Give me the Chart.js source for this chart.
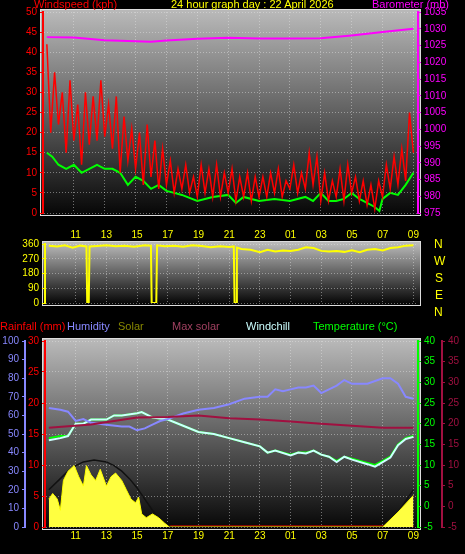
<!DOCTYPE html>
<html><head><meta charset="utf-8">
<script src="https://cdn.jsdelivr.net/npm/chart.js@4"></script>
<style>
body{margin:0;background:#000;width:465px;height:554px;overflow:hidden;position:relative;font-family:"Liberation Sans",Arial,sans-serif}
canvas{position:absolute;left:0}
.t{position:absolute;font-size:11px;white-space:nowrap;line-height:11px;z-index:2}
</style></head><body>
<canvas id="c1" width="465" height="222" style="top:0"></canvas>
<canvas id="c2" width="465" height="84" style="top:228px"></canvas>
<canvas id="c3" width="465" height="224" style="top:330px"></canvas>
<div class="t" style="left:34px;top:-1px;color:#f00">Windspeed (kph)</div>
<div class="t" style="left:171px;top:-1px;color:#ff0">24 hour graph day : 22 April 2026</div>
<div class="t" style="left:372px;top:-1px;color:#f0f">Barometer (mb)</div>
<div class="t" style="left:0;top:321px;color:#f00">Rainfall (mm)</div>
<div class="t" style="left:67px;top:321px;color:#88f">Humidity</div>
<div class="t" style="left:118px;top:321px;color:#880">Solar</div>
<div class="t" style="left:172px;top:321px;color:#a04060">Max solar</div>
<div class="t" style="left:246px;top:321px;color:#cff">Windchill</div>
<div class="t" style="left:313px;top:321px;color:#0f0">Temperature (°C)</div>
<div class="t" style="left:434px;top:239px;color:#ff0;font-size:12px">N</div>
<div class="t" style="left:434px;top:256px;color:#ff0;font-size:12px">W</div>
<div class="t" style="left:435px;top:273px;color:#ff0;font-size:12px">S</div>
<div class="t" style="left:435px;top:290px;color:#ff0;font-size:12px">E</div>
<div class="t" style="left:434px;top:307px;color:#ff0;font-size:12px">N</div>
<script>
// hours since midnight 22 April (values over 24 are next day)
const hourTicks = [11,13,15,17,19,21,23,25,27,29,31,33];

const gust = [42,20,35,22, 30,15,33,18, 27,12,30,17, 29,18,33,19, 27,16,29,10, 24,13,21,11,
  20,7,22,9, 18,6,16,7, 13,5,11,6, 12,5,9,4, 12,5,11,4, 12,4,10,5, 11,3,9,4, 10,3,9,4,
  9,4,10,5, 11,4,8,6, 12,5,10,6, 15,7,14,3, 10,3,8,4, 11,3,12,5, 9,3,8,2, 7,1,8,4,
  12,6,14,7, 16,8,25,15];
const gustTimes = gust.map((v, i) => 9.25 + i * 0.25);

const avgTimes = [9.25,9.6,10,10.5,11,11.5,12,12.5,13,13.5,14,14.5,15,15.5,16,16.5,17,17.5,18,19,20,21,21.5,22,23,24,25,26,26.5,27,27.5,28,28.5,29,29.5,30,30.5,30.8,31,31.5,32,32.5,33];
const avgSpeed = [15,14,12,11,12,10,11,12,11,11,10,7,9,8,6,7,5.5,5,4.5,3,4,4.5,2.5,4,3,3.5,3,4,3,5,3,3,3.5,5,3.5,2.5,1.5,0.5,3.5,5,4.5,7,10];

const baroTimes = [9.25,11,13,15,16,17,19,21,23,25,27,29,31,33];
const baro = [1027.5,1027.4,1026.6,1026.3,1026.1,1026.5,1027,1027.3,1027.1,1027.1,1027.2,1028,1029,1030];

const dirTimes = [9.25,9.8,10.3,10.8,11.3,11.7,11.75,11.85,11.9,12.4,13,13.6,14.2,14.8,15.5,15.9,15.95,16.25,16.3,16.8,17.4,18,18.6,19.2,19.8,20.4,21,21.3,21.35,21.45,21.5,21.8,22.4,23,23.5,24,24.5,25,25.5,26,26.5,27,27.5,28,28.5,29,29.5,30,30.5,31,31.5,32,32.5,33];
const dirValues = [350,345,352,338,350,345,0,0,345,348,352,346,350,344,352,350,0,0,352,346,350,344,352,348,340,346,342,345,0,0,338,330,325,310,325,315,320,318,325,340,335,318,315,318,312,322,310,325,330,320,335,340,350,352];

const humTimes = [9.25,10,10.5,11,11.5,12,13,14,14.5,15,15.5,16,16.5,17,18,19,20,21,22,23,23.5,24,24.5,25,25.5,26,26.5,27,27.5,28,28.5,29,30,31,31.5,32,32.5,33];
const humidity = [64,63,62,57,58,56,55,54,54,52,53,55,57,58,61,63,64,66,69,70,70,74,73,74,75,75,76,72,74,76,79,77,77,80,80,77,70,69];

const tempTimes = [9.25,10,10.5,11,11.5,12,13,13.5,14,15,15.3,16,17,18,19,20,21,22,23,23.5,24,25,25.5,26,26.5,27,27.5,28,28.5,29,30,30.5,31,31.5,32,32.5,33];
const temperature = [16.5,17,17,20,20,21,21,22,22,22.5,22.8,21.5,21,19.5,18,17.5,16.5,15.5,14.5,13,13.5,12.5,13,13,13.5,12.5,12,11,12,11.5,10.5,10,11,12,15,16.5,17];
const windchill = [16,16.5,17,20,20,21,21,22,22,22.5,22.8,21.5,21,19.5,18,17.5,16.5,15.5,14.5,13,13.5,12.3,13,12.8,13.5,12.5,12,10.7,12,11.3,10.2,9.6,10.7,11.8,14.8,16.3,16.8];

const indoorTimes = [9.25,12,15,17,19,21,23,25,27,29,31,33];
const indoor = [19,19.8,21.5,21.6,22,21.3,21,20.5,20,19.5,19,19];

const maxSolarTimes = [9.25,10,10.5,11,11.5,12.2,13,13.5,14,14.5,15,15.5,16,16.5,17,17.2,31,31.5,32,32.5,33];
const maxSolar = [20,26,30,33,35,36,35,33,30,26,21,15,9,4,1,0,0,3,8,14,20];

const solarTimes = [9.25,9.5,9.8,10,10.2,10.5,10.9,11.2,11.5,11.7,12,12.3,12.6,13,13.3,13.6,14,14.3,14.6,14.9,15.1,15.3,15.6,16,16.4,16.8,17.1,31,32,33];
const solar = [15,18,15,9,25,30,33,27,22,33,28,25,31,22,27,29,25,20,15,13,16,7,5,7,5,2,0,0,8,17];

const rainTimes = [9.25,33];
const rain = [0,0];

function pts(t, v) { return v.map((y, i) => ({x: t[i], y: y})); }

const bgPlugin = {
  id: 'bg',
  beforeDraw(chart) {
    const {ctx, chartArea: a} = chart;
    const g = ctx.createLinearGradient(0, a.top, 0, a.bottom);
    g.addColorStop(0, '#b8b8b8'); g.addColorStop(1, '#080808');
    ctx.save(); ctx.fillStyle = g;
    ctx.fillRect(a.left - 2, a.top - 2, a.right - a.left + 4, a.bottom - a.top + 4);
    ctx.strokeStyle = '#ddd'; ctx.lineWidth = 1;
    ctx.strokeRect(a.left - 2.5, a.top - 2.5, a.right - a.left + 5, a.bottom - a.top + 5);
    ctx.restore();
  }
};

const tickFont = {size: 10, family: 'Liberation Sans'};
function xAxis(show, pos) {
  return {
    type: 'linear', min: 9, max: 33.3, position: pos || 'bottom',
    afterBuildTicks: s => { s.ticks = hourTicks.map(v => ({value: v})); },
    ticks: {display: show, color: '#ff0', font: tickFont, maxRotation: 0, autoSkip: false,
      callback: v => String(v % 24).padStart(2, '0')},
    grid: {color: 'rgba(230,230,230,0.45)', drawTicks: false},
    border: {display: false, dash: [1, 2]}
  };
}
function yAxis(pos, min, max, step, color, width, weight, grid) {
  return {
    position: pos, min: min, max: max, weight: weight || 0,
    afterFit: s => { s.width = width; },
    ticks: {stepSize: step, color: color, font: tickFont, padding: 3, autoSkip: false,
      callback: v => String(v)},
    grid: {display: true, drawOnChartArea: !!grid, color: 'rgba(230,230,230,0.45)', tickColor: color, tickLength: 3},
    border: {display: true, color: color, width: 2, dash: [1, 2]}
  };
}
const line = (data, color, w, axis, extra) => Object.assign({
  data: data, borderColor: color, borderWidth: w, pointRadius: 0, yAxisID: axis, tension: 0
}, extra || {});
const common = {
  responsive: false, animation: false, parsing: false,
  plugins: {legend: {display: false}, tooltip: {enabled: false}}
};

new Chart(document.getElementById('c1'), {
  type: 'line',
  data: {datasets: [
    line(pts(baroTimes, baro), '#f0f', 2, 'yb'),
    line(pts(gustTimes, gust), '#f00', 1.5, 'y'),
    line(pts(avgTimes, avgSpeed), '#0f0', 2, 'y')
  ]},
  options: Object.assign({}, common, {
    layout: {padding: {top: 12, bottom: 2}},
    scales: {
      x: Object.assign(xAxis(false), {afterFit: s => { s.height = 0; }}),
      y: yAxis('left', 0, 50, 5, '#f00', 43, 0, true),
      yb: yAxis('right', 975, 1035, 5, '#f0f', 47, 0, false)
    }
  }),
  plugins: [bgPlugin]
});

new Chart(document.getElementById('c2'), {
  type: 'line',
  data: {datasets: [line(pts(dirTimes, dirValues), '#ff0', 2, 'y')]},
  options: Object.assign({}, common, {
    layout: {padding: {bottom: 5, right: 47}},
    scales: {
      x: Object.assign(xAxis(true, 'top'), {afterFit: s => { s.height = 16; }}),
      y: yAxis('left', 0, 360, 90, '#ff0', 45, 0, true)
    }
  }),
  plugins: [bgPlugin]
});

new Chart(document.getElementById('c3'), {
  type: 'line',
  data: {datasets: [
    line(pts(solarTimes, solar), '#ff0', 1, 'yh', {fill: 'origin', backgroundColor: '#ffff40'}),
    line(pts(maxSolarTimes, maxSolar), '#111', 1.5, 'yh'),
    line(pts(rainTimes, rain), '#f00', 3, 'yr'),
    line(pts(indoorTimes, indoor), '#a01040', 2, 'ym'),
    line(pts(humTimes, humidity), '#88f', 2, 'yh'),
    line(pts(tempTimes, windchill), '#cff', 2, 'yt'),
    line(pts(tempTimes, temperature), '#0f0', 2, 'yt')
  ]},
  options: Object.assign({}, common, {
    layout: {padding: {top: 11}},
    scales: {
      x: Object.assign(xAxis(true), {afterFit: s => { s.height = 27; }}),
      yh: yAxis('left', 0, 100, 10, '#88f', 25, 1, false),
      yr: yAxis('left', 0, 30, 5, '#f00', 20, 0, true),
      yt: yAxis('right', -5, 40, 5, '#0f0', 24, 0, false),
      ym: yAxis('right', -5, 40, 5, '#a01040', 23, 1, false)
    }
  }),
  plugins: [bgPlugin]
});
</script>
</body></html>
